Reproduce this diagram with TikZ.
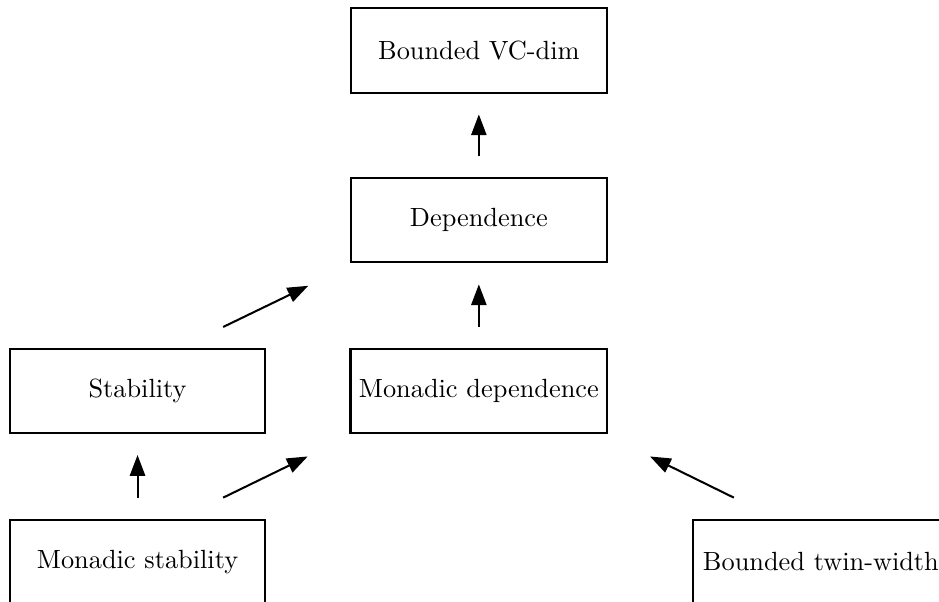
\documentclass[tikz,border=0pt]{standalone}
\usepackage{amsmath}
\usepackage{tikz}
\usetikzlibrary{arrows.meta}
\def\largeur{13.04}
\def\hauteur{8.35}

\begin{document}
\begin{tikzpicture}[x=1cm, y=1cm,
	boite/.style={draw, thick, minimum width=3.55cm, minimum height=1.17cm,
		font=\fontsize{10.4pt}{12.5pt}\selectfont},
	fleche/.style={thick, -{Triangle[length=8.2pt, width=6pt]}}]
	\useasboundingbox (0,0) rectangle (\largeur,\hauteur);
	%\draw[step=1cm, line width=0.1mm, black!20!white] (0,0) grid (\largeur,\hauteur);
	\node[boite] (vcdim) at (6.65,7.65) {Bounded VC-dim};
	\node[boite] (dep) at (6.65,5.29) {Dependence};
	\node[boite] (stab) at (1.91,2.92) {Stability};
	\node[boite] (mondep) at (6.65,2.92) {Monadic dependence};
	\node[boite] (monstab) at (1.91,0.55) {Monadic stability};
	\node[boite] (tww) at (11.40,0.55) {Bounded twin-width};
	\draw[fleche, shorten <=0.29cm, shorten >=0.29cm] (dep) -- (vcdim);
	\draw[fleche, shorten <=0.29cm, shorten >=0.29cm] (mondep) -- (dep);
	\draw[fleche, shorten <=0.29cm, shorten >=0.29cm] (monstab) -- (stab);
	\draw[fleche] ([shift={(-0.60,0.29)}]stab.north east) -- ([shift={(-0.58,-0.31)}]dep.south west);
	\draw[fleche] ([shift={(-0.60,0.29)}]monstab.north east) -- ([shift={(-0.58,-0.31)}]mondep.south west);
	\draw[fleche] ([shift={(0.58,0.29)}]tww.north west) -- ([shift={(0.58,-0.31)}]mondep.south east);
\end{tikzpicture}
\end{document}
